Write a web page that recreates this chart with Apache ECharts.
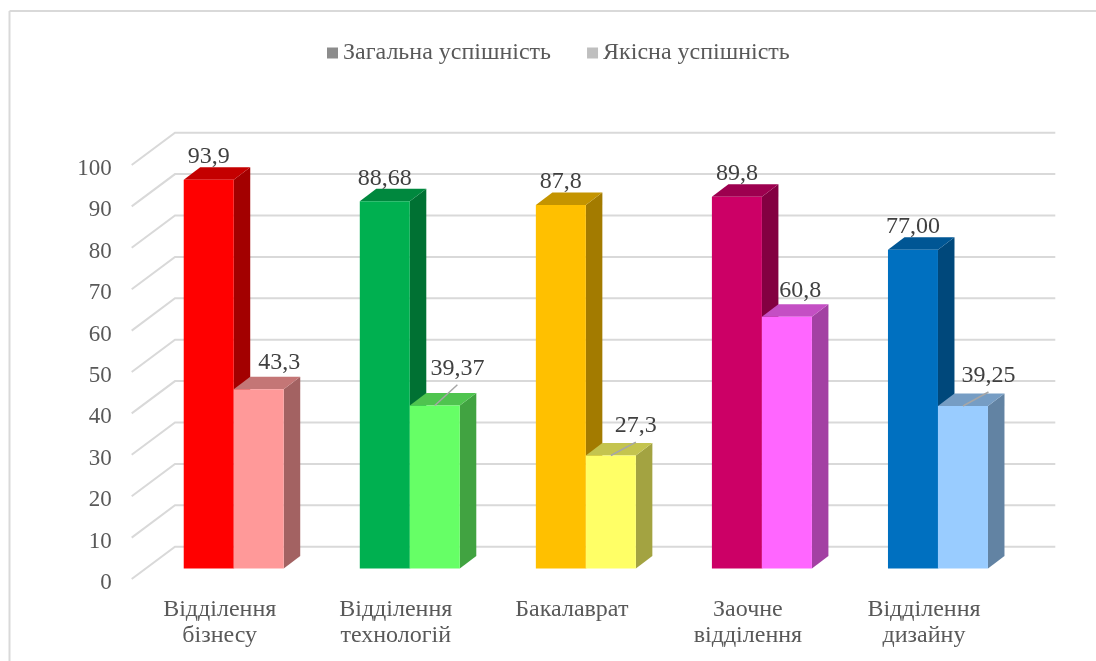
<!DOCTYPE html>
<html>
<head>
<meta charset="utf-8">
<script src="https://cdn.jsdelivr.net/npm/echarts@6/dist/echarts.min.js"></script>
<style>
html,body{margin:0;padding:0;background:#fff;}
#chart{width:1096px;height:661px;}
</style>
</head>
<body>
<div id="chart"></div>
<script>
const categories = ['Відділення\nбізнесу', 'Відділення\nтехнологій', 'Бакалаврат', 'Заочне\nвідділення', 'Відділення\nдизайну'];
const seriesNames = ['Загальна успішність', 'Якісна успішність'];
const generalValues = [93.9, 88.68, 87.8, 89.8, 77.00];
const generalLabels = ['93,9', '88,68', '87,8', '89,8', '77,00'];
const qualityValues = [43.3, 39.37, 27.3, 60.8, 39.25];
const qualityLabels = ['43,3', '39,37', '27,3', '60,8', '39,25'];
const yTicks = [0, 10, 20, 30, 40, 50, 60, 70, 80, 90, 100];

// styles
const generalColors = ['#FF0000', '#00B050', '#FFC000', '#CC0066', '#0070C0'];
const qualityColors = ['#FF9999', '#66FF66', '#FFFF66', '#FF66FF', '#99CCFF'];
const qualityLabelOffsets = [[20.5, -26.7], [22.6, -36.7], [25, -29.3], [13.3, -25.6], [25.5, -30]];
const qualityLeader = [false, true, true, false, true];
const FONT = "'Liberation Serif', 'Times New Roman', serif";
const YLABEL_DY = 4;

function shade(hex, f) {
  const n = parseInt(hex.slice(1), 16);
  const r = Math.round(((n >> 16) & 255) * f), g = Math.round(((n >> 8) & 255) * f), b = Math.round((n & 255) * f);
  return 'rgb(' + r + ',' + g + ',' + b + ')';
}

const WALL = [43.3, -32.3];   // back wall offset from front plane
const BAR_OFF = [14, -10.5];  // bar front face offset from front plane
const DEPTH = [16.5, -12.5];  // bar depth
const BAR_W = 50;

function barRender(seriesIdx, colors, labels, labelOffsets, leaders) {
  return function (params, api) {
    const i = api.value(0), v = api.value(1);
    const base = api.coord([i, 0]);
    const top = api.coord([i, v]);
    const x0 = base[0] + BAR_OFF[0] - (seriesIdx === 0 ? BAR_W : 0);
    const x1 = x0 + BAR_W;
    const yb = base[1] + BAR_OFF[1];
    const yt = top[1] + BAR_OFF[1];
    const c = colors[i];
    const dx = DEPTH[0], dy = DEPTH[1];
    const children = [
      { type: 'polygon', shape: { points: [[x1, yt], [x1 + dx, yt + dy], [x1 + dx, yb + dy], [x1, yb]] }, style: { fill: shade(c, 0.64) } },
      { type: 'polygon', shape: { points: [[x0, yt], [x0 + dx, yt + dy], [x1 + dx, yt + dy], [x1, yt]] }, style: { fill: shade(c, 0.77) } },
      { type: 'rect', shape: { x: x0, y: yt, width: BAR_W, height: yb - yt }, style: { fill: c } }
    ];
    const cx = (x0 + x1) / 2;
    const off = labelOffsets ? labelOffsets[i] : [0, -23];
    const lx = cx + off[0], ly = yt + off[1];
    if (leaders && leaders[i]) {
      children.push({ type: 'line', shape: { x1: cx, y1: yt, x2: lx, y2: ly + 16 }, style: { stroke: '#a6a6a6', lineWidth: 1.5 } });
    }
    children.push({ type: 'text', style: { text: labels[i], x: lx, y: ly, fill: '#404040', font: '24px ' + FONT, align: 'center', verticalAlign: 'middle' } });
    return { type: 'group', children: children };
  };
}

const chart = echarts.init(document.getElementById('chart'), null, { renderer: 'canvas' });
chart.setOption({
  backgroundColor: '#fff',
  animation: false,
  graphic: [
    { type: 'line', shape: { x1: 9.5, y1: 11, x2: 1096, y2: 11 }, style: { stroke: '#d9d9d9', lineWidth: 2 } },
    { type: 'line', shape: { x1: 9.5, y1: 11, x2: 9.5, y2: 661 }, style: { stroke: '#d9d9d9', lineWidth: 2 } }
  ],
  legend: {
    top: 36, left: 322, itemGap: 36, itemWidth: 11, itemHeight: 11, icon: 'rect',
    textStyle: { fontFamily: FONT, fontSize: 24, color: '#595959', padding: [0, 0, 0, 0] },
    data: seriesNames
  },
  grid: { left: 131.7, right: 84, top: 165, bottom: 82 },
  xAxis: {
    type: 'category', data: categories,
    axisLine: { show: false }, axisTick: { show: false }, splitLine: { show: false },
    axisLabel: { margin: 18, fontFamily: FONT, fontSize: 24, color: '#595959', lineHeight: 26, interval: 0 }
  },
  yAxis: {
    type: 'value', min: 0, max: 100, interval: 10,
    axisLine: { show: false }, axisTick: { show: false }, splitLine: { show: false },
    axisLabel: { show: false }
  },
  series: [
    {
      type: 'custom', name: 'grid', silent: true, z: 1,
      coordinateSystem: 'cartesian2d',
      data: yTicks.map(t => [0, t]),
      renderItem: function (params, api) {
        const cs = params.coordSys;
        const val = api.value(1);
        const y = api.coord([0, val])[1];
        return {
          type: 'group',
          children: [
            { type: 'polyline', shape: { points: [[cs.x, y], [cs.x + WALL[0], y + WALL[1]], [cs.x + cs.width + WALL[0], y + WALL[1]]] }, style: { stroke: '#d9d9d9', lineWidth: 2, fill: null } },
            { type: 'text', style: { text: String(val), x: cs.x - 20, y: y + YLABEL_DY, fill: '#595959', font: '23px ' + FONT, align: 'right', verticalAlign: 'middle' } }
          ]
        };
      }
    },
    {
      type: 'custom', name: seriesNames[0], z: 2,
      coordinateSystem: 'cartesian2d',
      itemStyle: { color: '#8c8c8c' },
      data: generalValues.map((v, i) => [i, v]),
      renderItem: barRender(0, generalColors, generalLabels, null, null)
    },
    {
      type: 'custom', name: seriesNames[1], z: 3,
      coordinateSystem: 'cartesian2d',
      itemStyle: { color: '#bfbfbf' },
      data: qualityValues.map((v, i) => [i, v]),
      renderItem: barRender(1, qualityColors, qualityLabels, qualityLabelOffsets, qualityLeader)
    }
  ]
});
</script>
</body>
</html>
